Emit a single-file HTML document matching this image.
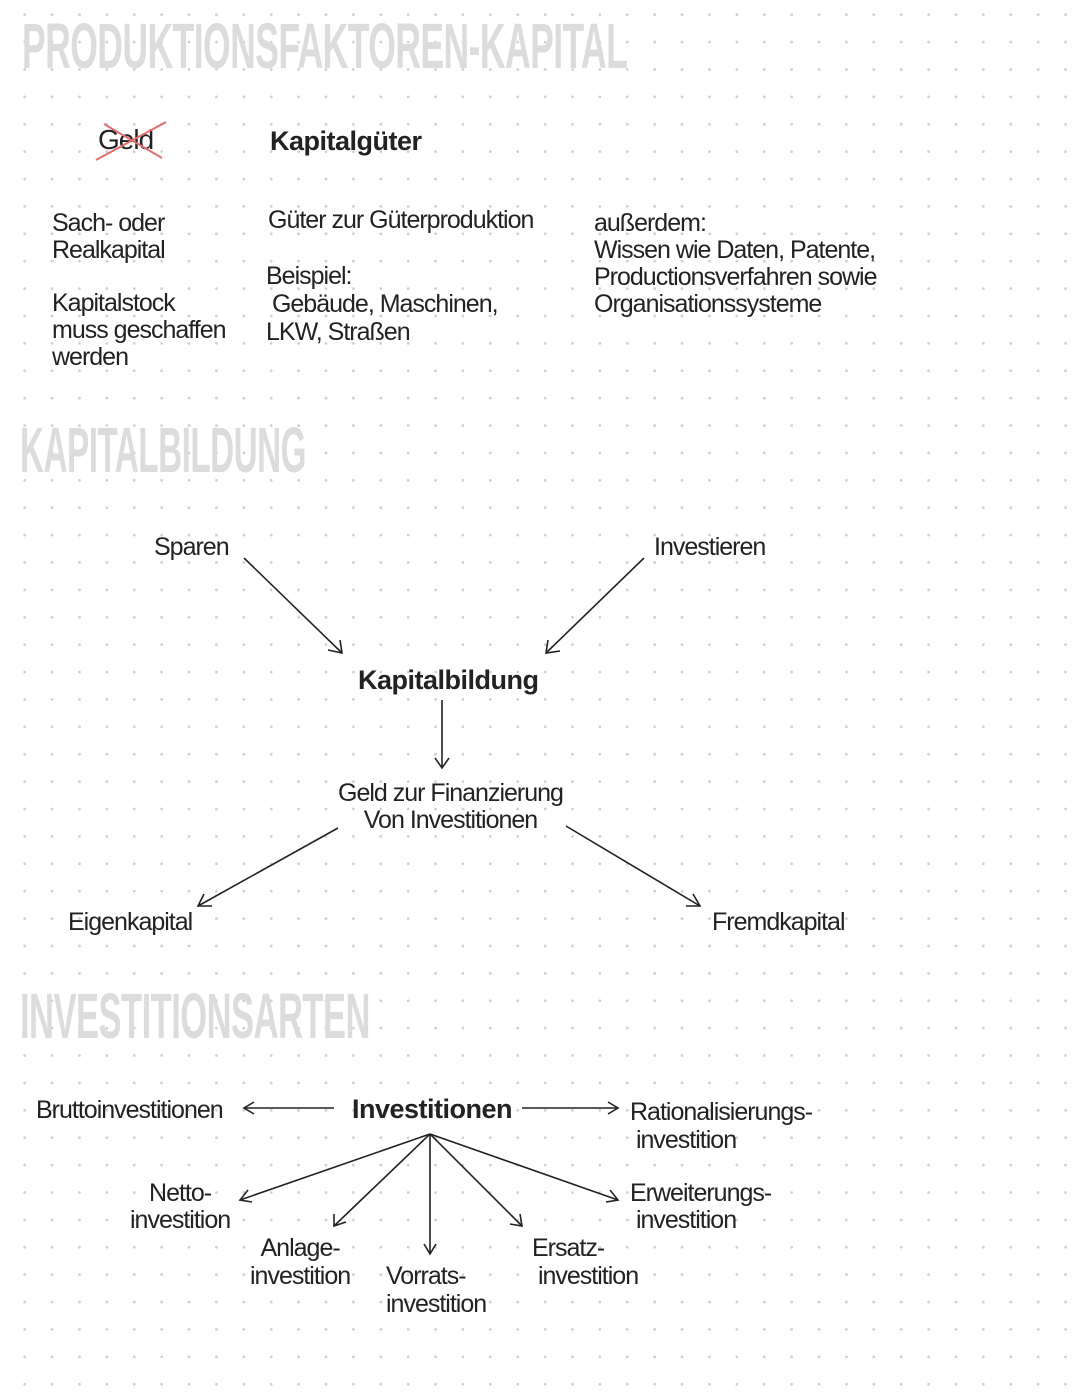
<!DOCTYPE html>
<html><head><meta charset="utf-8"><style>
body{margin:0;width:1080px;height:1394px;position:relative;background:#fff;overflow:hidden;
background-image:radial-gradient(circle,#cfcfcf 1.2px,transparent 1.6px);background-size:27.4px 27.4px;background-position:11px 1px;
font-family:"Liberation Sans",sans-serif;color:#222}
.t{position:absolute;white-space:nowrap;line-height:1}
.h{position:absolute;color:#dcdcdc;font-weight:bold;transform-origin:0 0;white-space:nowrap;line-height:1;letter-spacing:-1px}
.s{font-size:25px;letter-spacing:-1px}
.b{font-weight:bold;font-size:27px;letter-spacing:-0.5px}
</style></head><body>
<div class="h" style="left:22px;top:14px;font-size:64px;transform:scaleX(0.555)">PRODUKTIONSFAKTOREN-KAPITAL</div>
<div class="h" style="left:20px;top:418px;font-size:64px;transform:scaleX(0.52)">KAPITALBILDUNG</div>
<div class="h" style="left:20px;top:984px;font-size:64px;transform:scaleX(0.54)">INVESTITIONSARTEN</div>

<div class="t s" style="left:98px;top:126px;font-size:28px">Geld</div>
<svg style="position:absolute;left:0;top:0" width="1080" height="1394">
<g stroke="#e07070" stroke-width="2"><line x1="96" y1="160" x2="166" y2="122"/><line x1="104" y1="124" x2="162" y2="158"/></g>
<g stroke="#222" stroke-width="1.6" fill="none">
<line x1="244" y1="558" x2="342" y2="653"/><polyline points="328,650 342,653 340,640"/>
<line x1="644" y1="558" x2="546" y2="653"/><polyline points="548,640 546,653 560,651"/>
<line x1="442" y1="700" x2="442" y2="768"/><polyline points="435,758 442,768 449,758"/>
<line x1="338" y1="828" x2="198" y2="906"/><polyline points="204,894 198,906 212,906"/>
<line x1="566" y1="826" x2="700" y2="906"/><polyline points="686,906 700,906 693,894"/>
<line x1="334" y1="1108" x2="244" y2="1108"/><polyline points="254,1102 244,1108 254,1114"/>
<line x1="522" y1="1108" x2="618" y2="1108"/><polyline points="608,1102 618,1108 608,1114"/>
<line x1="430" y1="1134" x2="240" y2="1200"/><polyline points="248,1190 240,1200 252,1202"/>
<line x1="430" y1="1134" x2="334" y2="1226"/><polyline points="334,1214 334,1226 346,1222"/>
<line x1="430" y1="1134" x2="430" y2="1254"/><polyline points="424,1244 430,1254 436,1244"/>
<line x1="430" y1="1134" x2="522" y2="1226"/><polyline points="510,1224 522,1226 520,1214"/>
<line x1="430" y1="1134" x2="618" y2="1200"/><polyline points="606,1202 618,1200 610,1190"/>
</g></svg>
<div class="t b" style="left:270px;top:128px">Kapitalgüter</div>
<div class="t s" style="left:52px;top:210px;line-height:27px">Sach- oder<br>Realkapital</div>
<div class="t s" style="left:52px;top:290px;line-height:27px">Kapitalstock<br>muss geschaffen<br>werden</div>
<div class="t s" style="left:268px;top:208px">Güter zur Güterproduktion</div>
<div class="t s" style="left:266px;top:262px;line-height:28px">Beispiel:<br>&nbsp;Gebäude, Maschinen,<br>LKW, Straßen</div>
<div class="t s" style="left:594px;top:210px;line-height:27px">außerdem:<br>Wissen wie Daten, Patente,<br>Productionsverfahren sowie<br>Organisationssysteme</div>

<div class="t s" style="left:154px;top:535px">Sparen</div>
<div class="t s" style="left:654px;top:535px">Investieren</div>
<div class="t b" style="left:358px;top:667px">Kapitalbildung</div>
<div class="t s" style="left:338px;top:780px;line-height:27px;text-align:center">Geld zur Finanzierung<br>Von Investitionen</div>
<div class="t s" style="left:68px;top:910px">Eigenkapital</div>
<div class="t s" style="left:712px;top:910px">Fremdkapital</div>

<div class="t b" style="left:352px;top:1096px">Investitionen</div>
<div class="t s" style="left:36px;top:1098px">Bruttoinvestitionen</div>
<div class="t s" style="left:630px;top:1098px;line-height:28px">Rationalisierungs-<br>&nbsp;investition</div>
<div class="t s" style="left:130px;top:1180px;line-height:27px;text-align:center">Netto-<br>investition</div>
<div class="t s" style="left:630px;top:1180px;line-height:27px">Erweiterungs-<br>&nbsp;investition</div>
<div class="t s" style="left:250px;top:1234px;line-height:28px;text-align:center">Anlage-<br>investition</div>
<div class="t s" style="left:386px;top:1262px;line-height:28px">Vorrats-<br>investition</div>
<div class="t s" style="left:532px;top:1234px;line-height:28px">Ersatz-<br>&nbsp;investition</div>
</body></html>
